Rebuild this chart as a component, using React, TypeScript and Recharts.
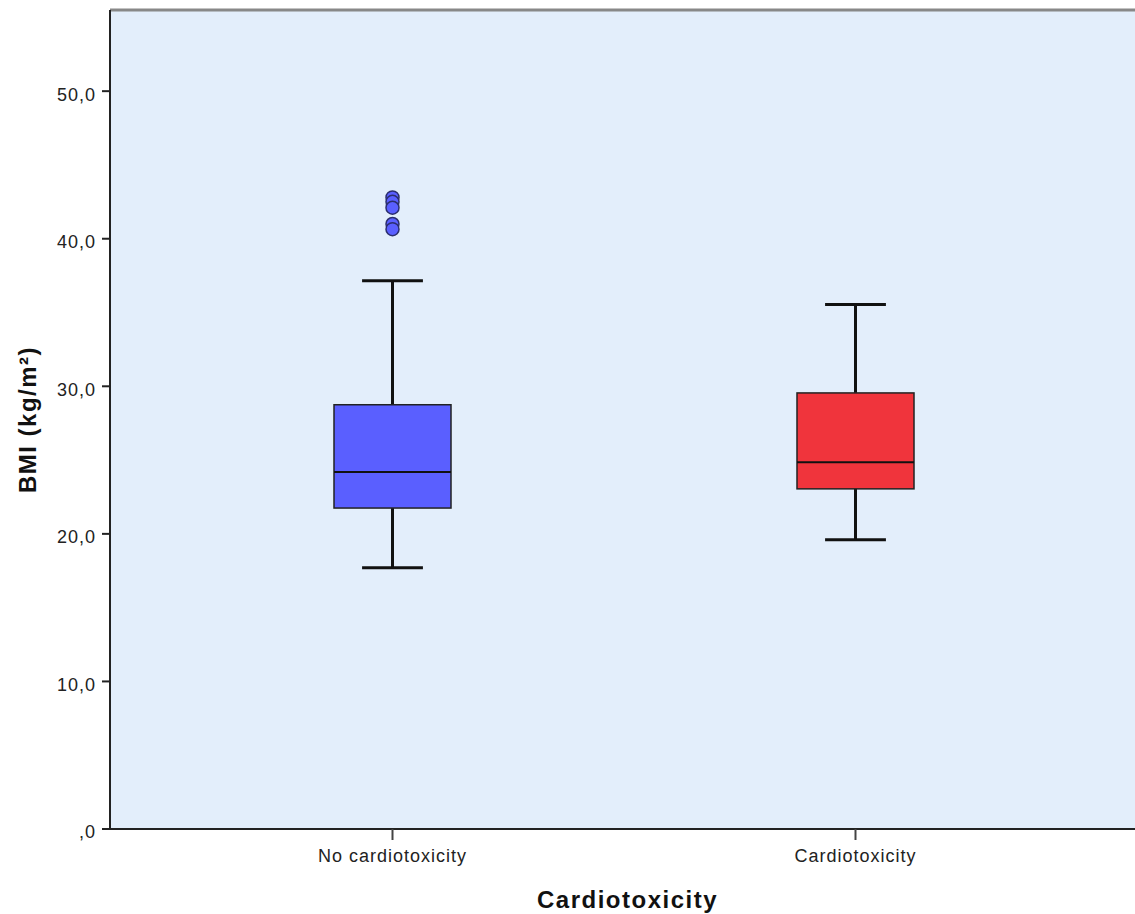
import React from 'react';
import { ComposedChart, Bar, Scatter, XAxis, YAxis, CartesianGrid, ReferenceLine } from 'recharts';

// box plot summary per group
const categories = ['No cardiotoxicity', 'Cardiotoxicity'];
const whiskerLow = [17.7, 19.6];
const quartile1 = [21.75, 23.05];
const medians = [24.2, 24.85];
const quartile3 = [28.75, 29.55];
const whiskerHigh = [37.15, 35.55];
const boxColors = ['#5A5FFF', '#F0343C'];
// outliers of the first group only
const outliersNoCardio = [42.8, 42.5, 42.1, 41.0, 40.65];
const yTicks = [0, 10, 20, 30, 40, 50];

const data = categories.map((cat, i) => {
  const row: any = {
    cat,
    min: whiskerLow[i],
    q1: quartile1[i],
    median: medians[i],
    q3: quartile3[i],
    max: whiskerHigh[i],
    color: boxColors[i],
  };
  outliersNoCardio.forEach((v, k) => {
    row['o' + k] = i === 0 ? v : null;
  });
  return row;
});

const FONT = '"Liberation Sans", Arial, sans-serif';

const formatTick = (v: number) => (v === 0 ? ',0' : v.toFixed(1).replace('.', ','));

// draws the whole box + whiskers inside the range bar [min, max]
const BoxShape = (props: any) => {
  const { x, width, payload } = props;
  const top = Math.min(props.y, props.y + props.height);
  const h = Math.abs(props.height);
  const { min, q1, median, q3, max, color } = payload;
  const toY = (v: number) => top + (h * (max - v)) / (max - min);
  const cx = x + width / 2;
  const cap = width * 0.26;
  return (
    <g>
      <line x1={cx} x2={cx} y1={toY(max)} y2={toY(q3)} stroke="#111" strokeWidth={3} />
      <line x1={cx} x2={cx} y1={toY(q1)} y2={toY(min)} stroke="#111" strokeWidth={3} />
      <line x1={cx - cap} x2={cx + cap} y1={toY(max)} y2={toY(max)} stroke="#111" strokeWidth={3} />
      <line x1={cx - cap} x2={cx + cap} y1={toY(min)} y2={toY(min)} stroke="#111" strokeWidth={3} />
      <rect x={x} y={toY(q3)} width={width} height={toY(q1) - toY(q3)} fill={color} stroke="#222" strokeWidth={1.5} />
      <line x1={x} x2={x + width} y1={toY(median)} y2={toY(median)} stroke="#111" strokeWidth={2} />
    </g>
  );
};

const OutlierDot = (props: any) => {
  if (props.cy == null || props.payload == null) return null;
  return <circle cx={props.cx} cy={props.cy} r={6.5} fill="#5A5FFF" stroke="#2B2E6E" strokeWidth={1.5} />;
};

export default function App() {
  return (
    <div style={{ position: 'absolute', left: 0, top: 0, background: '#fff' }}>
      <ComposedChart
        width={1135}
        height={914}
        data={data}
        margin={{ top: 10, right: 0, bottom: 0, left: 0 }}
        style={{ fontFamily: FONT }}
      >
        <CartesianGrid horizontal={false} vertical={false} fill="#E3EEFB" stroke="none" />
        <XAxis
          dataKey="cat"
          type="category"
          height={85}
          padding={{ left: 51, right: 48 }}
          axisLine={{ stroke: '#222', strokeWidth: 2 }}
          tickLine={{ stroke: '#444', strokeWidth: 2 }}
          tickSize={11}
          tick={{ fill: '#222', fontSize: 18, fontFamily: FONT, letterSpacing: 1 }}
          tickMargin={9}
          label={{
            value: 'Cardiotoxicity',
            position: 'insideBottom',
            offset: 6,
            dx: 5,
            style: { fill: '#111', fontSize: 24, fontWeight: 'bold', fontFamily: FONT, letterSpacing: 1.5 },
          }}
        />
        <YAxis
          type="number"
          domain={[0, 55.5]}
          ticks={yTicks}
          tickFormatter={formatTick}
          width={110}
          axisLine={{ stroke: '#222', strokeWidth: 2 }}
          tickLine={{ stroke: '#222', strokeWidth: 2 }}
          tickSize={8}
          tickMargin={6}
          tick={{ fill: '#222', fontSize: 18, fontFamily: FONT, letterSpacing: 1, dy: 3 }}
          label={{
            value: 'BMI (kg/m²)',
            angle: -90,
            position: 'insideLeft',
            offset: 27,
            style: { textAnchor: 'middle', fill: '#111', fontSize: 24, fontWeight: 'bold', fontFamily: FONT, letterSpacing: 1.5 },
          }}
        />
        <ReferenceLine y={55.5} stroke="#888" strokeWidth={3} />
        <Bar
          dataKey={(d: any) => [d.min, d.max]}
          barSize={117}
          shape={(p: any) => <BoxShape {...p} />}
          isAnimationActive={false}
        />
        {outliersNoCardio.map((_, k) => (
          <Scatter key={k} dataKey={'o' + k} shape={(p: any) => <OutlierDot {...p} />} isAnimationActive={false} />
        ))}
      </ComposedChart>
    </div>
  );
}
